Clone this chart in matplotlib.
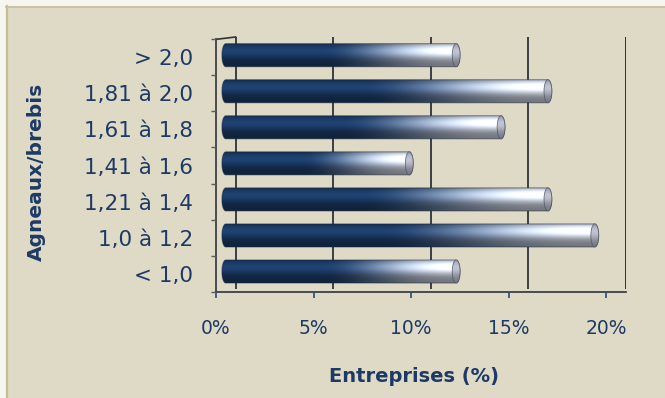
import numpy as np
import matplotlib
matplotlib.use("Agg")
import matplotlib.pyplot as plt
from matplotlib.path import Path
from matplotlib.patches import PathPatch, Rectangle, Ellipse

# Lambing ratio classes (bottom to top) and share of farms (%)
categories = ["< 1,0", "1,0 à 1,2", "1,21 à 1,4", "1,41 à 1,6",
              "1,61 à 1,8", "1,81 à 2,0", "> 2,0"]
shares = [11.8, 18.9, 16.5, 9.4, 14.1, 16.5, 11.8]
x_ticks = [0, 5, 10, 15, 20]
x_ticklabels = ["0%", "5%", "10%", "15%", "20%"]
x_title = "Entreprises (%)"
y_title = "Agneaux/brebis"

W, H = 665, 398
TEXT = "#1D3A66"
GRID = "#303338"
BG = "#DEDAC5"

fig = plt.figure(figsize=(W / 100, H / 100), dpi=100, facecolor="#F6F5EF")

# beige panel with a khaki rim on the left and top
fig.patches.append(Rectangle((7 / W, 0), 1, 1 - 7 / H, transform=fig.transFigure,
                             facecolor=BG, edgecolor="none", zorder=-5))
fig.add_artist(plt.Line2D([6.5 / W, 6.5 / W], [0, 1 - 6 / H], transform=fig.transFigure,
                          color="#C4BD96", lw=1.6, zorder=-4))
fig.add_artist(plt.Line2D([6 / W, 1], [1 - 6.5 / H, 1 - 6.5 / H], transform=fig.transFigure,
                          color="#C9C29E", lw=1.4, zorder=-4))

# plot area (front plane 0..20 %, back wall shifted by one unit of depth)
left_px, right_px, top_px, bottom_px = 216, 626, 37, 291.7
ax = fig.add_axes([left_px / W, (H - bottom_px) / H,
                   (right_px - left_px) / W, (bottom_px - top_px) / H])
ax.set_facecolor("none")
depth_x = 1.0
depth_y = 0.065
n = len(categories)
ax.set_xlim(0, 21)
ax.set_ylim(-0.5, n - 0.5 + depth_y)
for s in ax.spines.values():
    s.set_visible(False)

# back wall gridlines
for xv in x_ticks + [21 - depth_x]:
    ax.plot([xv + depth_x] * 2, [-0.5 + depth_y, n - 0.5 + depth_y],
            color=GRID, lw=1.3, zorder=1, solid_capstyle="butt")
# floor / left wall edges
ax.plot([0, 21], [-0.5, -0.5], color=GRID, lw=1.2, zorder=1, clip_on=False)
ax.plot([0, 0], [-0.5, n - 0.5], color=GRID, lw=1.2, zorder=1, clip_on=False)
ax.plot([0, depth_x], [n - 0.5, n - 0.5 + depth_y], color=GRID, lw=1.2, zorder=1,
        clip_on=False)


def body_image(nx=400, ny=64):
    t = np.linspace(0, 1, nx)
    u = np.linspace(0, 1, ny)
    s = np.clip((t - 0.42) / 0.55, 0, 1)
    s = s * s * (3 - 2 * s)
    dark = np.array([27, 58, 100]) / 255
    light = np.array([230, 237, 250]) / 255
    base = dark[None, None, :] + (light - dark)[None, None, :] * s[None, :, None]
    glow = np.exp(-((u - 0.68) / 0.3) ** 2)
    shade_dark = 0.6 + 0.55 * glow
    shade_light = 0.5 + 0.68 * glow
    shade = (shade_dark[:, None] * (1 - s[None, :]) + shade_light[:, None] * s[None, :])
    img = base * shade[:, :, None]
    return np.clip(img, 0, 1)


def cap_image(ny=64):
    u = np.linspace(0, 1, ny)
    g = 0.47 + 0.3 * np.exp(-((u - 0.65) / 0.35) ** 2)
    img = np.stack([g * 0.98, g * 1.0, g * 1.08], axis=-1)
    return np.clip(img, 0, 1)[:, None, :].repeat(8, axis=1)


IMG = body_image()
CAP = cap_image()
half_h = 0.32
a = 0.2
for i, v in enumerate(shares):
    yc = i + 0.06
    xs, xe = 0.5, v + 0.5
    th_r = np.linspace(-np.pi / 2, np.pi / 2, 40)
    th_l = np.linspace(np.pi / 2, 3 * np.pi / 2, 40)
    pts = np.vstack([
        np.column_stack([xe + a * np.cos(th_r), yc + half_h * np.sin(th_r)]),
        np.column_stack([xs + a * np.cos(th_l), yc + half_h * np.sin(th_l)]),
    ])
    pts = np.vstack([pts, pts[:1]])
    path = Path(pts)
    patch = PathPatch(path, facecolor="none", edgecolor=(0.08, 0.12, 0.22, 0.5),
                      lw=0.7, zorder=4)
    ax.add_patch(patch)
    im = ax.imshow(IMG, extent=[xs - a, xe + a, yc - half_h, yc + half_h],
                   origin="lower", aspect="auto", zorder=3, interpolation="bilinear")
    im.set_clip_path(patch)
    cap = Ellipse((xe, yc), 2 * a, 2 * half_h, facecolor="none",
                  edgecolor=(0.3, 0.32, 0.4, 0.8), lw=0.6, zorder=6)
    ax.add_patch(cap)
    cim = ax.imshow(CAP, extent=[xe - a, xe + a, yc - half_h, yc + half_h],
                    origin="lower", aspect="auto", zorder=5, interpolation="bilinear")
    cim.set_clip_path(cap)

ax.set_xlim(0, 21)
ax.set_ylim(-0.5, n - 0.5 + depth_y)

# x axis ticks and labels
ax.set_xticks(x_ticks)
ax.set_xticklabels(x_ticklabels)
ax.tick_params(axis="x", direction="out", length=4.3, width=1.2, color="#2B4A7A",
               labelsize=13.5, labelcolor=TEXT, pad=15.5)

# y axis: labels at category centres, tick marks at boundaries
ax.set_yticks(range(n))
ax.set_yticklabels(categories)
ax.set_yticks(np.arange(-0.5, n), minor=True)
ax.tick_params(axis="y", which="major", length=0, labelsize=15.5, labelcolor=TEXT,
               pad=16.5)
ax.tick_params(axis="y", which="minor", direction="out", length=3.6, width=1.0,
               color="#5A5A5A")

ax.set_xlabel(x_title, fontsize=14, fontweight="bold", color=TEXT)
ax.xaxis.label.set_va("center")
ax.xaxis.set_label_coords((414 - left_px) / (right_px - left_px),
                          (H - 376 - (H - bottom_px)) / (bottom_px - top_px))
ax.set_ylabel(y_title, fontsize=14.5, fontweight="bold", color=TEXT)
ax.yaxis.label.set_va("center")
ax.yaxis.set_label_coords((36 - left_px) / (right_px - left_px),
                          (H - 171.5 - (H - bottom_px)) / (bottom_px - top_px))

fig.savefig("out.png", dpi=100, facecolor=fig.get_facecolor())
